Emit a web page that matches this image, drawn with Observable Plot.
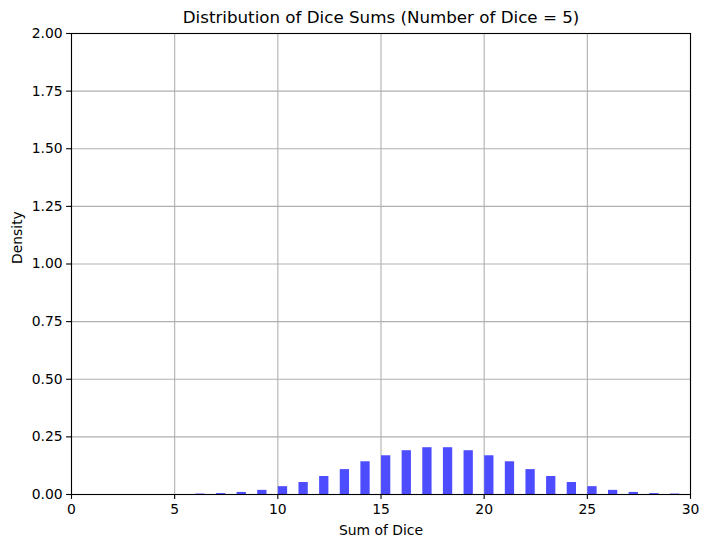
<!DOCTYPE html>
<html>
<head>
<meta charset="utf-8">
<script src="https://cdn.jsdelivr.net/npm/d3@7"></script>
<script src="https://cdn.jsdelivr.net/npm/@observablehq/plot@0.6"></script>
<style>
  html, body { margin: 0; padding: 0; background: #fff; }
  svg { font-family: "DejaVu Sans", sans-serif; }
</style>
</head>
<body>
<div id="chart"></div>
<script>
const title = "Distribution of Dice Sums (Number of Dice = 5)";
const xLabel = "Sum of Dice";
const yLabel = "Density";
const sums = [6, 7, 8, 9, 10, 11, 12, 13, 14, 15, 16, 17, 18, 19, 20, 21, 22, 23, 24, 25, 26, 27, 28, 29];
const densities = [0.002, 0.004, 0.009, 0.018, 0.034, 0.052, 0.078, 0.108, 0.142, 0.168, 0.190, 0.203, 0.203, 0.190, 0.168, 0.142, 0.108, 0.078, 0.052, 0.034, 0.018, 0.009, 0.004, 0.002];
const binWidth = 0.5;
const barFrac = 0.9;
const xTicks = [0, 5, 10, 15, 20, 25, 30];
const yTicks = [0, 0.25, 0.5, 0.75, 1.0, 1.25, 1.5, 1.75, 2.0];

const data = sums.map((s, i) => ({sum: s, density: densities[i]}));
const pad = binWidth * (1 - barFrac) / 2;

const chart = Plot.plot({
  width: 708,
  height: 547,
  marginLeft: 71,
  marginRight: 18,
  marginTop: 33,
  marginBottom: 53,
  style: {fontFamily: "DejaVu Sans, sans-serif", fontSize: "13.9px", color: "#000", background: "#fff"},
  x: {domain: [0, 30], label: null},
  y: {domain: [0, 2], label: null},
  marks: [
    Plot.gridX(xTicks, {stroke: "#b0b0b0", strokeOpacity: 1, strokeWidth: 1.1}),
    Plot.gridY(yTicks, {stroke: "#b0b0b0", strokeOpacity: 1, strokeWidth: 1.1}),
    Plot.rect(data, {
      x1: d => d.sum + pad,
      x2: d => d.sum + binWidth - pad,
      y1: 0,
      y2: "density",
      fill: "#4d4dff"
    }),
    Plot.frame({stroke: "#000", strokeWidth: 1.1}),
    Plot.axisX(xTicks, {tickFormat: d3.format("d"), tickSize: 4.9, tickPadding: 5, stroke: "#000", strokeWidth: 1.1, fontSize: 13.9, fill: "#000", label: null}),
    Plot.axisY(yTicks, {tickFormat: d3.format(".2f"), tickSize: 4.9, tickPadding: 4, stroke: "#000", strokeWidth: 1.1, fontSize: 13.9, fill: "#000", label: null}),
    Plot.text([title], {frameAnchor: "top", dy: -16, fontSize: 16.7, fill: "#000", lineAnchor: "middle"}),
    Plot.text([xLabel], {frameAnchor: "bottom", dy: 40, fontSize: 13.9, fill: "#000"}),
    Plot.text([yLabel], {frameAnchor: "left", dx: -54, rotate: -90, fontSize: 13.9, fill: "#000"})
  ]
});
document.getElementById("chart").appendChild(chart);
</script>
</body>
</html>
